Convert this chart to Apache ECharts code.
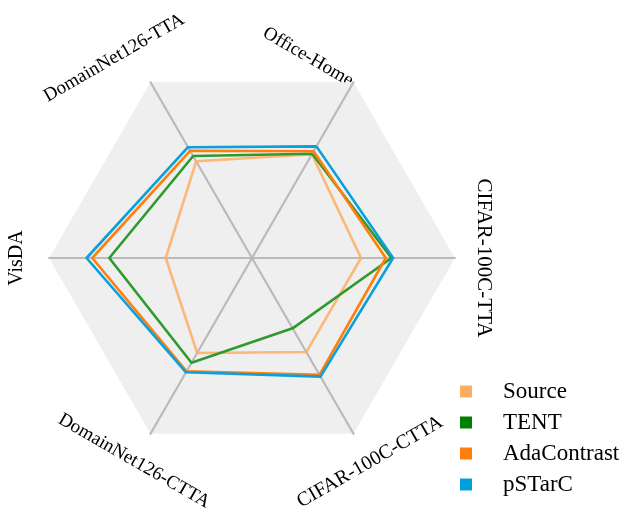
<!DOCTYPE html>
<html>
<head>
<meta charset="utf-8">
<script src="https://cdn.jsdelivr.net/npm/echarts@6/dist/echarts.min.js"></script>
<style>html,body{margin:0;padding:0;background:#fff;}#c{width:626px;height:514px;}</style>
</head>
<body>
<div id="c"></div>
<script>
// Axes in counter-clockwise order starting at Office-Home (60°)
const categories = ['Office-Home', 'DomainNet126-TTA', 'VisDA', 'DomainNet126-CTTA', 'CIFAR-100C-CTTA', 'CIFAR-100C-TTA'];
const seriesNames = ['Source', 'TENT', 'AdaContrast', 'pSTarC'];
const sourceVals = [59.0, 55.0, 42.5, 54.0, 53.5, 53.7];
const tentVals = [59.3, 58.0, 70.3, 59.6, 40.0, 68.7];
const adaVals = [60.7, 61.0, 78.7, 64.5, 66.5, 65.9];
const pstarcVals = [63.5, 63.0, 81.5, 65.0, 67.5, 69.5];

const lineColors = ['rgba(253,174,97,0.85)', '#2e9a2e', '#ff7f0e', '#0aa0dc'];
const legendColors = ['#fdae61', '#008000', '#ff7f0e', '#00a0dc'];

const cx = 252, cy = 258, R = 203;
const labelFont = '20px "Liberation Serif", "DejaVu Serif", serif';
const labels = [
  {text: categories[0], x: 308, y: 57, rot: -Math.PI / 6, size: 19},
  {text: categories[1], x: 114, y: 58, rot: Math.PI / 6, size: 19},
  {text: categories[2], x: 17, y: 258, rot: Math.PI / 2, size: 20},
  {text: categories[3], x: 134, y: 461, rot: -Math.PI / 6, size: 19},
  {text: categories[4], x: 370, y: 462, rot: Math.PI / 6, size: 20},
  {text: categories[5], x: 484, y: 258, rot: -Math.PI / 2, size: 21}
];

const allVals = [sourceVals, tentVals, adaVals, pstarcVals];
const chart = echarts.init(document.getElementById('c'));
chart.setOption({
  animation: false,
  legend: {
    orient: 'vertical',
    left: 455,
    top: 375,
    icon: 'rect',
    itemWidth: 12,
    itemHeight: 12,
    itemGap: 8,
    data: seriesNames.map((n, i) => ({name: n, itemStyle: {color: legendColors[i]}})),
    textStyle: {fontFamily: '"Liberation Serif", serif', fontSize: 23, color: '#000', lineHeight: 23, padding: [0, 0, 0, 26]}
  },
  radar: {
    center: [cx, cy],
    radius: R,
    startAngle: 60,
    shape: 'polygon',
    splitNumber: 1,
    indicator: categories.map(c => ({name: c, min: 0, max: 100})),
    axisName: {show: false},
    axisLine: {lineStyle: {color: '#bababa', width: 2.2}},
    splitLine: {show: false},
    splitArea: {show: true, areaStyle: {color: ['#efefef']}}
  },
  graphic: labels.map(l => ({
    type: 'text',
    x: l.x, y: l.y, rotation: l.rot,
    style: {text: l.text, font: l.size + 'px "Liberation Serif", "DejaVu Serif", serif', fill: '#000', align: 'center', verticalAlign: 'middle'}
  })),
  series: [{
    type: 'radar',
    symbol: 'none',
    data: allVals.map((v, i) => ({
      name: seriesNames[i],
      value: v,
      lineStyle: {color: lineColors[i], width: 2.6},
      itemStyle: {color: legendColors[i]}
    }))
  }]
});
</script>
</body>
</html>
